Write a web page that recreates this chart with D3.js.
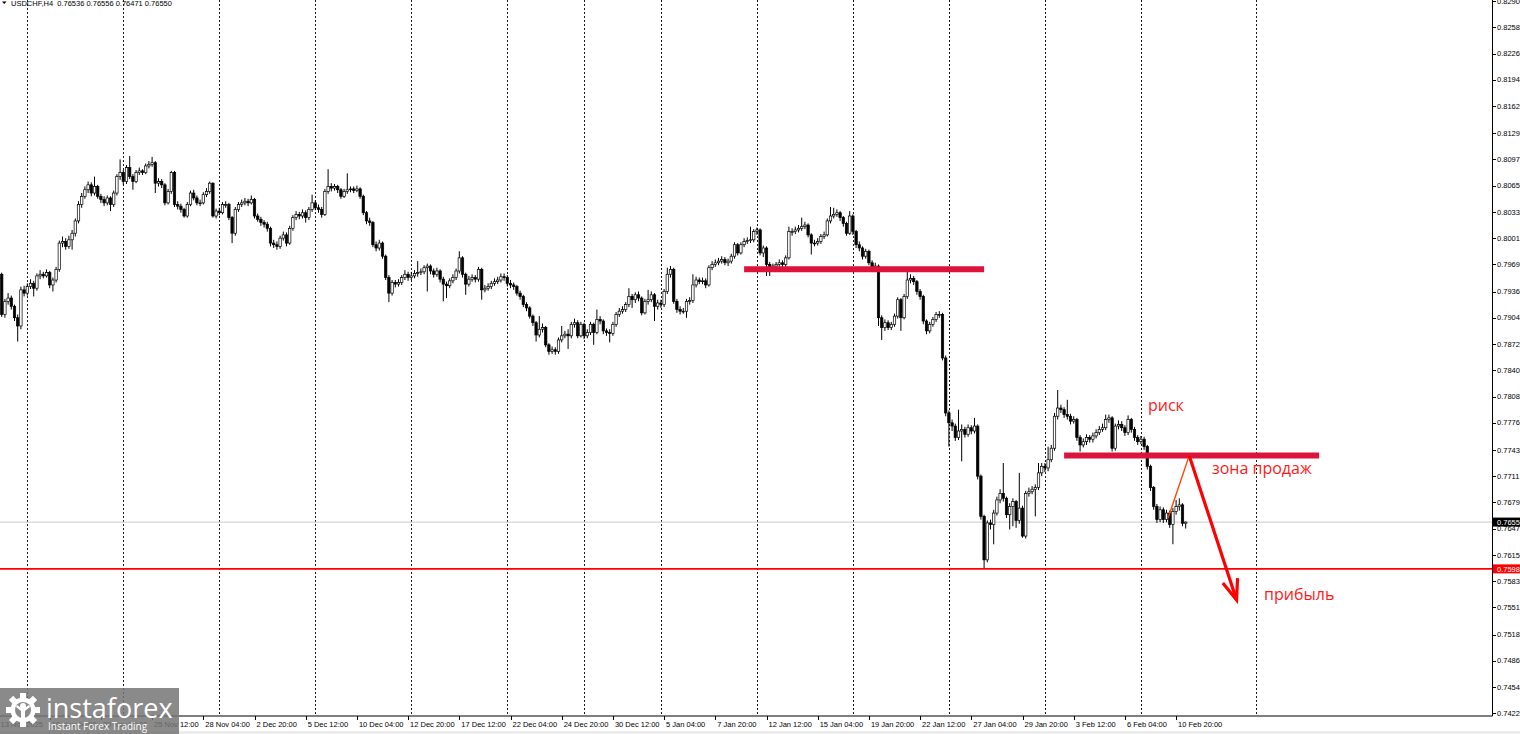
<!DOCTYPE html>
<html><head><meta charset="utf-8">
<script src="https://cdn.jsdelivr.net/npm/d3@7"></script>
<style>html,body{margin:0;padding:0;background:#fff;overflow:hidden}</style>
</head><body>
<svg id="c" width="1520" height="734"></svg>
<script>
// ---------------- data ----------------
const symbolTitle = "USDCHF,H4";
const lastQuote = ["0.76536", "0.76556", "0.76471", "0.76550"];
const labelStart = "2025-11-13T12:00:00Z";           // first time label; bar 1 is the next H4 bar
const closedDays = ["2025-12-25", "2026-01-01"];
const firstOpen = 0.7957;

const closes = [
.7908,.7924,.7928,.7918,.7904,.7894,.7938,.7934,.7942,.7946,
.7940,.7955,.7957,.7955,.7959,.7944,.7950,.7963,.7995,.7997,
.7991,.7999,.8007,.8022,.8042,.8052,.8060,.8066,.8056,.8064,
.8052,.8048,.8044,.8050,.8042,.8056,.8076,.8081,.8070,.8087,
.8076,.8070,.8081,.8083,.8081,.8089,.8091,.8093,.8068,.8070,
.8066,.8044,.8058,.8081,.8042,.8040,.8036,.8028,.8042,.8056,
.8050,.8044,.8044,.8054,.8058,.8068,.8028,.8034,.8032,.8042,
.8042,.8026,.8007,.8036,.8042,.8044,.8046,.8044,.8048,.8028,
.8024,.8020,.8018,.8013,.7995,.7993,.7991,.8001,.8005,.7995,
.8013,.8026,.8030,.8028,.8032,.8026,.8036,.8044,.8038,.8036,
.8030,.8058,.8064,.8062,.8064,.8060,.8052,.8058,.8060,.8061,
.8059,.8061,.8052,.8032,.8022,.8020,.7993,.7989,.7995,.7979,
.7953,.7934,.7947,.7945,.7947,.7953,.7957,.7953,.7955,.7958,
.7959,.7960,.7965,.7967,.7961,.7957,.7961,.7951,.7945,.7943,
.7949,.7953,.7961,.7977,.7957,.7945,.7951,.7953,.7951,.7963,
.7938,.7940,.7942,.7946,.7948,.7950,.7954,.7953,.7946,.7944,
.7942,.7934,.7930,.7920,.7916,.7906,.7898,.7883,.7890,.7892,
.7871,.7863,.7865,.7863,.7877,.7882,.7884,.7882,.7896,.7898,
.7882,.7896,.7882,.7886,.7896,.7886,.7902,.7900,.7888,.7886,
.7885,.7896,.7908,.7912,.7914,.7920,.7930,.7926,.7932,.7928,
.7910,.7924,.7926,.7932,.7918,.7922,.7920,.7936,.7957,.7963,
.7924,.7914,.7912,.7912,.7924,.7925,.7944,.7950,.7948,.7949,
.7944,.7965,.7969,.7971,.7973,.7975,.7971,.7973,.7979,.7993,
.7983,.7993,.7997,.7998,.7999,.8009,.8011,.7983,.7989,.7969,
.7963,.7967,.7969,.7971,.7969,.7977,.8009,.8009,.8011,.8013,
.8015,.8017,.8005,.7995,.7995,.7997,.8003,.8005,.8022,.8028,
.8030,.8032,.8026,.8019,.8007,.8028,.8009,.7993,.7989,.7979,
.7985,.7971,.7965,.7967,.7904,.7892,.7898,.7892,.7896,.7906,
.7926,.7904,.7930,.7950,.7952,.7948,.7936,.7930,.7900,.7888,
.7896,.7902,.7908,.7908,.7855,.7788,.7776,.7772,.7758,.7766,
.7768,.7762,.7770,.7766,.7772,.7711,.7662,.7609,.7654,.7652,
.7666,.7682,.7690,.7684,.7664,.7674,.7680,.7657,.7672,.7638,
.7690,.7692,.7695,.7697,.7715,.7723,.7721,.7731,.7745,.7784,
.7794,.7792,.7786,.7784,.7778,.7780,.7758,.7749,.7753,.7758,
.7756,.7760,.7764,.7768,.7770,.7780,.7782,.7745,.7772,.7774,
.7770,.7764,.7780,.7768,.7758,.7753,.7756,.7747,.7723,.7697,
.7674,.7658,.7670,.7658,.7666,.7652,.7668,.7674,.7676,.76536,
.76550];

const highs = [
.7959,.7927,.7934,.7931,.7920,.7908,.7942,.7943,.7946,.7951,
.7949,.7958,.7962,.7960,.7963,.7961,.7953,.7966,.7998,.8003,
.8001,.8004,.8011,.8025,.8046,.8056,.8064,.8070,.8069,.8076,
.8066,.8055,.8052,.8053,.8052,.8059,.8079,.8097,.8084,.8090,
.8101,.8079,.8084,.8087,.8085,.8092,.8095,.8100,.8095,.8074,
.8073,.8068,.8061,.8083,.8083,.8046,.8043,.8038,.8045,.8059,
.8060,.8053,.8048,.8057,.8062,.8070,.8069,.8037,.8038,.8045,
.8046,.8044,.8028,.8039,.8045,.8048,.8050,.8049,.8053,.8050,
.8031,.8027,.8023,.8021,.8015,.7999,.7997,.8004,.8009,.8008,
.8016,.8029,.8034,.8033,.8036,.8035,.8039,.8054,.8047,.8042,
.8039,.8061,.8085,.8068,.8067,.8066,.8062,.8061,.8080,.8064,
.8064,.8065,.8063,.8054,.8034,.8026,.8022,.7997,.7999,.7997,
.7981,.7956,.7950,.7950,.7951,.7956,.7962,.7960,.7960,.7962,
.7973,.7964,.7968,.7970,.7969,.7964,.7965,.7963,.7954,.7948,
.7952,.7957,.7964,.7985,.7979,.7959,.7955,.7957,.7956,.7966,
.7965,.7944,.7946,.7949,.7952,.7954,.7958,.7958,.7956,.7950,
.7947,.7944,.7937,.7932,.7923,.7918,.7908,.7900,.7906,.7897,
.7894,.7873,.7869,.7868,.7880,.7894,.7888,.7890,.7899,.7903,
.7901,.7899,.7898,.7890,.7899,.7898,.7914,.7906,.7902,.7891,
.7890,.7899,.7911,.7916,.7918,.7923,.7940,.7933,.7935,.7936,
.7930,.7927,.7938,.7936,.7934,.7926,.7926,.7939,.7965,.7967,
.7965,.7927,.7918,.7916,.7927,.7929,.7957,.7954,.7953,.7953,
.7952,.7968,.7973,.7975,.7977,.7979,.7978,.7976,.7982,.7996,
.7995,.7996,.8001,.8002,.8015,.8012,.8014,.8013,.7992,.7991,
.7972,.7970,.7972,.7975,.7974,.7980,.8015,.8013,.8015,.8017,
.8026,.8021,.8019,.8007,.7999,.8001,.8006,.8009,.8025,.8039,
.8038,.8036,.8034,.8028,.8021,.8034,.8030,.8011,.7997,.7991,
.7988,.7987,.7974,.7971,.7969,.7907,.7902,.7901,.7899,.7909,
.7929,.7928,.7933,.7965,.7957,.7955,.7950,.7939,.7932,.7902,
.7899,.7905,.7911,.7912,.7910,.7858,.7791,.7780,.7775,.7792,
.7774,.7771,.7774,.7773,.7782,.7774,.7713,.7664,.7657,.7658,
.7670,.7686,.7695,.7727,.7686,.7678,.7684,.7682,.7715,.7675,
.7693,.7697,.7699,.7701,.7727,.7727,.7727,.7747,.7749,.7788,
.7816,.7798,.7795,.7804,.7787,.7784,.7782,.7761,.7757,.7762,
.7761,.7764,.7768,.7772,.7775,.7786,.7786,.7784,.7775,.7779,
.7778,.7773,.7785,.7782,.7771,.7761,.7760,.7759,.7749,.7725,
.7699,.7677,.7674,.7673,.7670,.7669,.7672,.7682,.7684,.7678,
.76556];

const lows = [
.7905,.7904,.7920,.7914,.7900,.7875,.7890,.7930,.7931,.7939,
.7930,.7937,.7951,.7952,.7953,.7940,.7936,.7947,.7960,.7990,
.7987,.7988,.7987,.8003,.8019,.8038,.8049,.8056,.8052,.8053,
.8049,.8044,.8040,.8041,.8034,.8039,.8053,.8072,.8066,.8067,
.8073,.8060,.8068,.8078,.8078,.8079,.8086,.8088,.8056,.8064,
.8062,.8041,.8042,.8055,.8039,.8036,.8032,.8026,.8026,.8040,
.8047,.8041,.8040,.8042,.8051,.8055,.8026,.8025,.8029,.8030,
.8038,.8023,.7995,.8004,.8033,.8039,.8041,.8040,.8042,.8025,
.8021,.8016,.8014,.8009,.7991,.7989,.7987,.7988,.7998,.7991,
.7993,.8010,.8023,.8024,.8025,.8020,.8023,.8033,.8035,.8032,
.8026,.8028,.8055,.8058,.8059,.8056,.8049,.8050,.8055,.8057,
.8056,.8057,.8049,.8029,.8018,.8016,.7990,.7985,.7986,.7976,
.7950,.7923,.7931,.7941,.7942,.7944,.7950,.7949,.7950,.7952,
.7954,.7956,.7957,.7936,.7957,.7953,.7954,.7947,.7924,.7928,
.7940,.7946,.7950,.7958,.7953,.7932,.7942,.7948,.7947,.7948,
.7926,.7935,.7937,.7939,.7943,.7945,.7947,.7949,.7942,.7940,
.7938,.7931,.7926,.7917,.7912,.7903,.7894,.7875,.7880,.7886,
.7868,.7859,.7860,.7859,.7860,.7874,.7879,.7866,.7879,.7892,
.7879,.7880,.7878,.7879,.7883,.7871,.7884,.7896,.7884,.7882,
.7874,.7882,.7893,.7905,.7909,.7911,.7917,.7916,.7922,.7924,
.7907,.7908,.7920,.7923,.7900,.7914,.7916,.7917,.7933,.7953,
.7921,.7910,.7908,.7909,.7904,.7920,.7922,.7941,.7945,.7945,
.7940,.7942,.7962,.7966,.7968,.7970,.7968,.7967,.7970,.7976,
.7980,.7981,.7990,.7994,.7995,.7996,.8005,.7980,.7978,.7955,
.7955,.7960,.7964,.7966,.7965,.7966,.7975,.8004,.8006,.8008,
.8010,.8012,.8002,.7981,.7991,.7992,.7994,.8000,.8003,.8019,
.8025,.8027,.8022,.8015,.8004,.8005,.8005,.7989,.7985,.7975,
.7976,.7968,.7961,.7962,.7894,.7877,.7888,.7889,.7889,.7893,
.7903,.7888,.7902,.7927,.7946,.7944,.7932,.7926,.7896,.7884,
.7885,.7893,.7899,.7904,.7852,.7784,.7747,.7766,.7754,.7755,
.7729,.7758,.7759,.7762,.7763,.7707,.7658,.7599,.7606,.7646,
.7628,.7663,.7678,.7680,.7660,.7646,.7650,.7648,.7653,.7636,
.7635,.7686,.7689,.7662,.7694,.7711,.7716,.7717,.7728,.7742,
.7780,.7788,.7782,.7780,.7774,.7775,.7754,.7741,.7746,.7749,
.7752,.7752,.7757,.7761,.7765,.7767,.7776,.7741,.7742,.7768,
.7766,.7760,.7761,.7764,.7754,.7749,.7750,.7743,.7719,.7693,
.7670,.7654,.7655,.7654,.7655,.7648,.7628,.7664,.7669,.7650,
.76471];

const timeLabels = ["13 Nov 2025","18 Nov 04:00","20 Nov 20:00","25 Nov 12:00","28 Nov 04:00",
  "2 Dec 20:00","5 Dec 12:00","10 Dec 04:00","12 Dec 20:00","17 Dec 12:00","22 Dec 04:00",
  "24 Dec 20:00","30 Dec 12:00","5 Jan 04:00","7 Jan 20:00","12 Jan 12:00","15 Jan 04:00",
  "19 Jan 20:00","22 Jan 12:00","27 Jan 04:00","29 Jan 20:00","3 Feb 12:00","6 Feb 04:00","10 Feb 20:00"];
const barsPerTimeLabel = 16;

const priceLabels = ["0.8290","0.8258","0.8226","0.8194","0.8162","0.8129","0.8097","0.8065","0.8033",
  "0.8001","0.7969","0.7936","0.7904","0.7872","0.7840","0.7808","0.7776","0.7743","0.7711",
  "0.7679","0.7647","0.7615","0.7583","0.7551","0.7518","0.7486","0.7454","0.7422"];

const currentPrice = 0.76550;
const profitLevel = 0.75980;
// annotation objects in (bar index, price)
const zones = [ {from: 233, to: 308, price: 0.7963}, {from: 333, to: 412.7, price: 0.7736} ];
const pullback = {from: [365.5, 0.7660], to: [372.1, 0.7736]};
const arrow = {from: [372.1, 0.7736], to: [386.9, 0.7560]};
const notes = [ {text: "риск", at: [359.2, 0.7790]}, {text: "зона продаж", at: [379.2, 0.7714]}, {text: "прибыль", at: [395.5, 0.7560]} ];

// ---------------- layout ----------------
const W = 1520, H = 734, plotR = 1492, plotB = 715.5;
const svg = d3.select("#c");
const x = d3.scaleLinear().domain([0, 1]).range([-1.5, 1.7]);      // 3.2 px per H4 bar
const y = d3.scaleLinear().domain([0.7422, 0.8290]).range([713.3, 1]);
const AX = "Liberation Sans, Arial, sans-serif";

// bar calendar (H4, weekends + closed days skipped), then continuous future time
const barTimes = [];
let t = new Date(labelStart);
const isOpen = d => { const wd = d.getUTCDay(); return wd !== 0 && wd !== 6 && !closedDays.includes(d.toISOString().slice(0,10)); };
while (barTimes.length <= closes.length) { if (isOpen(t)) barTimes.push(new Date(t)); t = new Date(+t + 4*3600e3); }
while (barTimes.length < 480) { barTimes.push(new Date(t)); t = new Date(+t + 4*3600e3); }

const bars = closes.map((c, k) => ({ i: k + 1, o: k === 0 ? firstOpen : closes[k-1], h: highs[k], l: lows[k], c }));

svg.append("rect").attr("width", W).attr("height", H).attr("fill", "#fff");

const plot = svg.append("g");
plot.append("clipPath").attr("id", "pc").append("rect").attr("x", 0).attr("y", 0).attr("width", plotR).attr("height", plotB);
const pg = plot.append("g").attr("clip-path", "url(#pc)");

// weekly separators
const gridIdx = [];
let futureDone = false;
for (let i = 1; i < barTimes.length; i++) {
  if (+d3.utcWeek.floor(barTimes[i]) !== +d3.utcWeek.floor(barTimes[i-1])) {
    if (i <= closes.length) gridIdx.push(i);
    else if (!futureDone) { gridIdx.push(i); futureDone = true; }
  }
}
pg.selectAll("line.grid").data(gridIdx).join("line").attr("class", "grid")
  .attr("x1", i => Math.round(x(i)) + 0.5).attr("x2", i => Math.round(x(i)) + 0.5)
  .attr("y1", 0).attr("y2", plotB).attr("stroke", "#1a1a1a").attr("stroke-width", 1).attr("stroke-dasharray", "2,2");

// current price line
pg.append("line").attr("x1", 0).attr("x2", plotR).attr("y1", y(currentPrice)).attr("y2", y(currentPrice))
  .attr("stroke", "#c8c8c8").attr("stroke-width", 1);

// candles
const cg = pg.append("g");
cg.selectAll("line.wick").data(bars).join("line").attr("class", "wick")
  .attr("x1", d => x(d.i)).attr("x2", d => x(d.i)).attr("y1", d => y(d.h)).attr("y2", d => y(d.l))
  .attr("stroke", "#000").attr("stroke-width", 1);
cg.selectAll("rect.body").data(bars).join("rect").attr("class", "body")
  .attr("x", d => x(d.i) - 1.2).attr("width", 2.4)
  .attr("y", d => y(Math.max(d.o, d.c)))
  .attr("height", d => Math.max(0.8, Math.abs(y(d.o) - y(d.c))))
  .attr("fill", d => d.c >= d.o ? "#fff" : "#000")
  .attr("stroke", "#000").attr("stroke-width", 0.7);

// profit level (red horizontal)
pg.append("line").attr("x1", 0).attr("x2", plotR).attr("y1", y(profitLevel)).attr("y2", y(profitLevel))
  .attr("stroke", "#ff0000").attr("stroke-width", 1.6);

// sell zones
pg.selectAll("line.zone").data(zones).join("line").attr("class", "zone")
  .attr("x1", d => x(d.from)).attr("x2", d => x(d.to)).attr("y1", d => y(d.price)).attr("y2", d => y(d.price))
  .attr("stroke", "#dc143c").attr("stroke-width", 6);

// pullback line
pg.append("line").attr("x1", x(pullback.from[0])).attr("y1", y(pullback.from[1]))
  .attr("x2", x(pullback.to[0])).attr("y2", y(pullback.to[1])).attr("stroke", "#ff4500").attr("stroke-width", 1.4);

// arrow
const ax1 = x(arrow.from[0]), ay1 = y(arrow.from[1]), ax2 = x(arrow.to[0]), ay2 = y(arrow.to[1]);
pg.append("line").attr("x1", ax1).attr("y1", ay1).attr("x2", ax2).attr("y2", ay2)
  .attr("stroke", "#ff0000").attr("stroke-width", 3.2);
const ang = Math.atan2(ay2 - ay1, ax2 - ax1), hl = 22, ha = 0.36;
const p1 = [ax2 - hl*Math.cos(ang - ha), ay2 - hl*Math.sin(ang - ha)];
const p2 = [ax2 - hl*Math.cos(ang + ha), ay2 - hl*Math.sin(ang + ha)];
pg.append("path").attr("d", `M${p1}L${ax2},${ay2}L${p2}`).attr("fill", "none")
  .attr("stroke", "#ff0000").attr("stroke-width", 3.2).attr("stroke-linejoin", "miter");

// notes
pg.selectAll("text.note").data(notes).join("text").attr("class", "note")
  .attr("x", d => x(d.at[0])).attr("y", d => y(d.at[1])).text(d => d.text)
  .attr("fill", "#ff1a1a").attr("font-family", "Open Sans, sans-serif").attr("font-size", 16);

// title
svg.append("path").attr("d", "M2,1.5L6.5,1.5L4.25,4Z").attr("fill", "#000");
svg.append("text").attr("x", 11).attr("y", 6.2).attr("font-family", AX).attr("font-size", 7.5).attr("fill", "#000")
  .attr("xml:space", "preserve").text(symbolTitle + "  " + lastQuote.join(" "));

// axes lines
svg.append("line").attr("x1", plotR + 0.5).attr("x2", plotR + 0.5).attr("y1", 0).attr("y2", plotB + 0.5).attr("stroke", "#000");
svg.append("line").attr("x1", 0).attr("x2", plotR + 0.5).attr("y1", plotB + 0.5).attr("y2", plotB + 0.5).attr("stroke", "#000");

// price axis
const pa = svg.append("g");
pa.selectAll("line").data(priceLabels).join("line")
  .attr("x1", plotR + 1).attr("x2", plotR + 4).attr("y1", d => Math.round(y(+d)) + 0.5).attr("y2", d => Math.round(y(+d)) + 0.5)
  .attr("stroke", "#000");
pa.selectAll("text").data(priceLabels).join("text")
  .attr("x", plotR + 5).attr("y", d => y(+d) + 2.7).text(d => d)
  .attr("font-family", AX).attr("font-size", 7.5).attr("fill", "#000");

// price tags
const tags = [{v: currentPrice, bg: "#000"}, {v: profitLevel, bg: "#ff0000"}];
tags.forEach(tg => {
  svg.append("rect").attr("x", plotR + 1).attr("y", y(tg.v) - 4.5).attr("width", W - plotR).attr("height", 9).attr("fill", tg.bg);
  svg.append("text").attr("x", plotR + 5).attr("y", y(tg.v) + 2.7).text(d3.format(".5f")(tg.v))
    .attr("font-family", AX).attr("font-size", 7.5).attr("fill", "#fff");
});

// time axis
const ta = svg.append("g");
const tIdx = timeLabels.map((s, k) => ({s, i: k * barsPerTimeLabel}));
ta.selectAll("line").data(tIdx).join("line")
  .attr("x1", d => Math.round(x(d.i)) + 0.5).attr("x2", d => Math.round(x(d.i)) + 0.5)
  .attr("y1", plotB + 0.5).attr("y2", plotB + 4.5).attr("stroke", "#000");
ta.selectAll("text").data(tIdx).join("text")
  .attr("x", d => Math.max(0, x(d.i) + 2)).attr("y", 727).text(d => d.s)
  .attr("font-family", AX).attr("font-size", 7.5).attr("fill", "#000");

// bottom strip
svg.append("rect").attr("x", 0).attr("y", 731).attr("width", W).attr("height", 3).attr("fill", "#ececec");

// logo
const lg = svg.append("g");
lg.append("rect").attr("x", 0).attr("y", 688).attr("width", 179).attr("height", 46).attr("fill", "#767676").attr("opacity", 0.85);
const gear = lg.append("g").attr("transform", "translate(23,710)");
d3.range(8).forEach(k => {
  gear.append("rect").attr("x", -3).attr("y", -17).attr("width", 6).attr("height", 7).attr("fill", "#fff")
    .attr("transform", `rotate(${k*45})`);
});
gear.append("circle").attr("r", 12.5).attr("fill", "#fff");
gear.append("circle").attr("r", 8).attr("fill", "#8a8a8a");
gear.append("circle").attr("cy", -4).attr("r", 3).attr("fill", "#fff");
gear.append("path").attr("d", "M-7,-3L-2,1L-2,9L2,9L2,1L7,-3L6,-5L0,-1L-6,-5Z").attr("fill", "#fff");
lg.append("text").attr("x", 46).attr("y", 718).text("instaforex")
  .attr("font-family", "Open Sans, sans-serif").attr("font-size", 27).attr("fill", "#fff");
lg.append("text").attr("x", 48).attr("y", 729.5).text("Instant Forex Trading")
  .attr("font-family", "Open Sans, sans-serif").attr("font-size", 10).attr("fill", "#fff");
</script>
</body></html>
